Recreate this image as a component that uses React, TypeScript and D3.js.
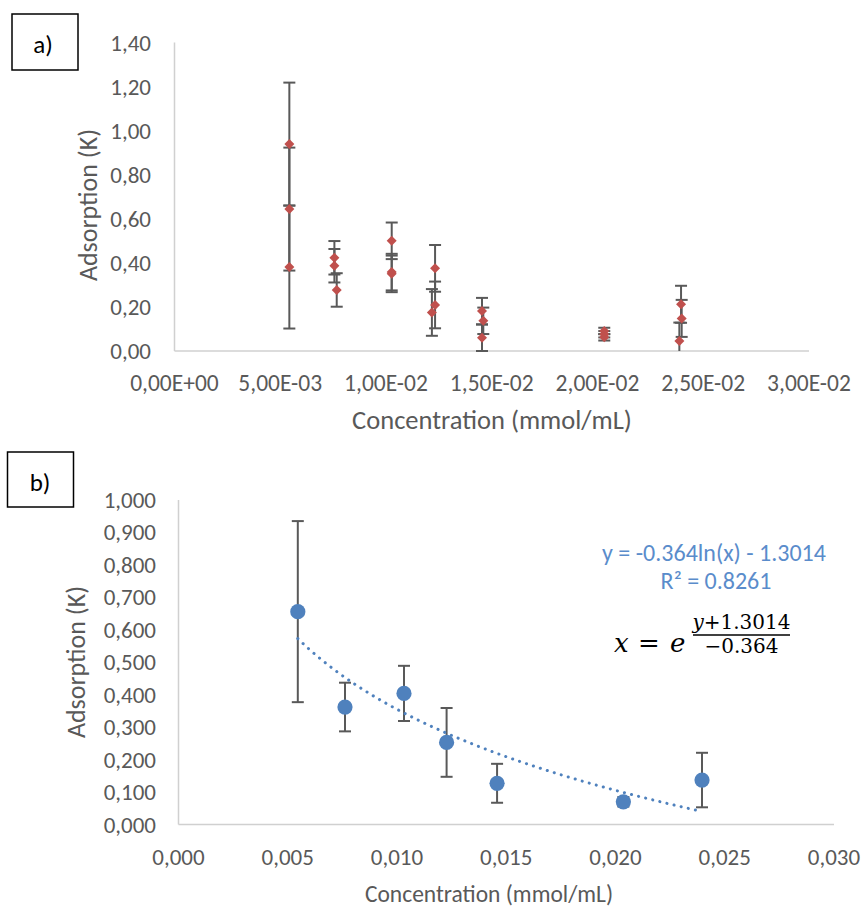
import React from 'react';
import * as d3 from 'd3';

// ---------- Panel a data (three replicates) ----------
const rep1Conc = [0.00543, 0.00756, 0.01027, 0.01232, 0.01454, 0.02032, 0.02395];
const rep1Abs = [0.939, 0.423, 0.5, 0.375, 0.181, 0.091, 0.212];
const rep2Conc = [0.00543, 0.00756, 0.01027, 0.01232, 0.0146, 0.02032, 0.02398];
const rep2Abs = [0.644, 0.387, 0.358, 0.209, 0.137, 0.076, 0.148];
const rep3Conc = [0.00543, 0.00767, 0.01027, 0.01217, 0.01454, 0.02032, 0.02387];
const rep3Abs = [0.381, 0.277, 0.35, 0.175, 0.06, 0.062, 0.045];
const sdA = [0.279, 0.076, 0.083, 0.106, 0.06, 0.0145, 0.084];

const xTicksA = [0, 0.005, 0.01, 0.015, 0.02, 0.025, 0.03];
const xTickLabelsA = ['0,00E+00', '5,00E-03', '1,00E-02', '1,50E-02', '2,00E-02', '2,50E-02', '3,00E-02'];
const yTicksA = [0, 0.2, 0.4, 0.6, 0.8, 1.0, 1.2, 1.4];
const yTickLabelsA = ['0,00', '0,20', '0,40', '0,60', '0,80', '1,00', '1,20', '1,40'];

// ---------- Panel b data (means) ----------
const meanConc = [0.00546, 0.00762, 0.01032, 0.01227, 0.01458, 0.02036, 0.02396];
const meanAbs = [0.656, 0.362, 0.404, 0.253, 0.127, 0.07, 0.137];
const sdB = [0.279, 0.075, 0.085, 0.106, 0.06, 0.0145, 0.084];

const xTicksB = [0, 0.005, 0.01, 0.015, 0.02, 0.025, 0.03];
const xTickLabelsB = ['0,000', '0,005', '0,010', '0,015', '0,020', '0,025', '0,030'];
const yTicksB = [0, 0.1, 0.2, 0.3, 0.4, 0.5, 0.6, 0.7, 0.8, 0.9, 1.0];
const yTickLabelsB = ['0,000', '0,100', '0,200', '0,300', '0,400', '0,500', '0,600', '0,700', '0,800', '0,900', '1,000'];

const eqLine1 = 'y  = -0.364ln(x) - 1.3014';
const eqLine2 = 'R² = 0.8261';

const FONT = "Carlito, Calibri, Lato, 'Noto Sans', sans-serif";
const MATH = "'DejaVu Serif', 'Liberation Serif', serif";
const GRAY = '#595959';
const AXIS = '#d0d0d0';
const RED = '#c0504d';
const BLUE = '#4f81bd';
const EQBLUE = '#5a8ccb';

function ErrorBar({ cx, v, sd, y, maxV }: any) {
  const lo = v - sd;
  const hi = v + sd;
  const loC = Math.max(0, lo);
  const hiC = Math.min(maxV, hi);
  const cw = 6;
  return (
    <g stroke={GRAY} strokeWidth={2}>
      <line x1={cx} x2={cx} y1={y(loC)} y2={y(hiC)} />
      {lo >= -1e-9 && <line x1={cx - cw} x2={cx + cw} y1={y(lo)} y2={y(lo)} />}
      {hi <= maxV && <line x1={cx - cw} x2={cx + cw} y1={y(hi)} y2={y(hi)} />}
    </g>
  );
}

export default function App() {
  // Panel a scales
  const xA = d3.scaleLinear().domain([0, 0.03]).range([174.5, 809]);
  const yA = d3.scaleLinear().domain([0, 1.4]).range([351, 42.5]);
  // Panel b scales
  const xB = d3.scaleLinear().domain([0, 0.03]).range([178.5, 834]);
  const yB = d3.scaleLinear().domain([0, 1]).range([824.5, 500]);

  const reps = [
    { c: rep1Conc, v: rep1Abs },
    { c: rep2Conc, v: rep2Abs },
    { c: rep3Conc, v: rep3Abs },
  ];
  const diamond = d3.symbol(d3.symbolSquare, 50)()!;

  // logarithmic least-squares trendline fitted to the means
  const lx = meanConc.map((c) => Math.log(c));
  const mx = d3.mean(lx)!;
  const my = d3.mean(meanAbs)!;
  let sxy = 0, sxx = 0;
  lx.forEach((l, i) => {
    sxy += (l - mx) * (meanAbs[i] - my);
    sxx += (l - mx) * (l - mx);
  });
  const slope = sxy / sxx;
  const intercept = my - slope * mx;
  const [cMin, cMax] = d3.extent(meanConc) as [number, number];
  const trendPts = d3.range(0, 81).map((i) => {
    const c = cMin + ((cMax - cMin) * i) / 80;
    return [c, slope * Math.log(c) + intercept] as [number, number];
  });
  const trendPath = d3.line<[number, number]>().x((d) => xB(d[0])).y((d) => yB(d[1]))(trendPts)!;

  return (
    <svg width={866} height={908} style={{ position: 'absolute', left: 0, top: 0, background: '#fff' }} fontFamily={FONT}>
      <rect width={866} height={908} fill="#fff" />

      {/* ================= Panel a ================= */}
      <rect x={12} y={14} width={66} height={56} fill="none" stroke="#000" strokeWidth={1.5} />
      <text x={43} y={44} textAnchor="middle" dominantBaseline="central" fontSize={25} fill="#000">a)</text>

      <line x1={xA(0)} x2={xA(0)} y1={yA(1.4)} y2={yA(0)} stroke={AXIS} strokeWidth={1.5} />
      <line x1={xA(0)} x2={xA(0.03)} y1={yA(0)} y2={yA(0)} stroke={AXIS} strokeWidth={1.5} />

      {yTicksA.map((t, i) => (
        <text key={'ya' + i} x={151} y={yA(t)} textAnchor="end" dominantBaseline="central" fontSize={23} fill={GRAY}>
          {yTickLabelsA[i]}
        </text>
      ))}
      {xTicksA.map((t, i) => (
        <text key={'xa' + i} x={xA(t)} y={383} textAnchor="middle" dominantBaseline="central" fontSize={23.5} fill={GRAY}>
          {xTickLabelsA[i]}
        </text>
      ))}
      <text x={492} y={420} textAnchor="middle" dominantBaseline="central" fontSize={26.5} fill={GRAY}>
        Concentration (mmol/mL)
      </text>
      <text transform={`translate(88,205) rotate(-90)`} textAnchor="middle" dominantBaseline="central" fontSize={26} fill={GRAY}>
        Adsorption (K)
      </text>

      {reps.map((r, ri) => (
        <g key={'rep' + ri}>
          {r.c.map((c, i) => (
            <ErrorBar key={i} cx={xA(c)} v={r.v[i]} sd={sdA[i]} y={yA} maxV={1.4} />
          ))}
        </g>
      ))}
      {reps.map((r, ri) => (
        <g key={'mk' + ri}>
          {r.c.map((c, i) => (
            <path key={i} d={diamond} transform={`translate(${xA(c)},${yA(r.v[i])}) rotate(45)`} fill={RED} />
          ))}
        </g>
      ))}

      {/* ================= Panel b ================= */}
      <rect x={7.5} y={452} width={66} height={55} fill="none" stroke="#000" strokeWidth={1.5} />
      <text x={40} y={482} textAnchor="middle" dominantBaseline="central" fontSize={25} fill="#000">b)</text>

      <line x1={xB(0)} x2={xB(0)} y1={yB(1)} y2={yB(0)} stroke={AXIS} strokeWidth={1.5} />
      <line x1={xB(0)} x2={xB(0.03)} y1={yB(0)} y2={yB(0)} stroke={AXIS} strokeWidth={1.5} />

      {yTicksB.map((t, i) => (
        <text key={'yb' + i} x={156} y={yB(t)} textAnchor="end" dominantBaseline="central" fontSize={23} fill={GRAY}>
          {yTickLabelsB[i]}
        </text>
      ))}
      {xTicksB.map((t, i) => (
        <text key={'xb' + i} x={xB(t)} y={857} textAnchor="middle" dominantBaseline="central" fontSize={23} fill={GRAY}>
          {xTickLabelsB[i]}
        </text>
      ))}
      <text x={489} y={894} textAnchor="middle" dominantBaseline="central" fontSize={23.5} fill={GRAY}>
        Concentration (mmol/mL)
      </text>
      <text transform={`translate(76,662) rotate(-90)`} textAnchor="middle" dominantBaseline="central" fontSize={26} fill={GRAY}>
        Adsorption (K)
      </text>

      {meanConc.map((c, i) => (
        <ErrorBar key={'eb' + i} cx={xB(c)} v={meanAbs[i]} sd={sdB[i]} y={yB} maxV={1} />
      ))}
      {meanConc.map((c, i) => (
        <circle key={'pt' + i} cx={xB(c)} cy={yB(meanAbs[i])} r={7.6} fill={BLUE} />
      ))}
      <path d={trendPath} fill="none" stroke={BLUE} strokeWidth={3} strokeLinecap="round" strokeDasharray="0.1 7.2" />

      <text x={714} y={552} textAnchor="middle" dominantBaseline="central" fontSize={24} fill={EQBLUE}>{eqLine1}</text>
      <text x={716} y={580} textAnchor="middle" dominantBaseline="central" fontSize={24} fill={EQBLUE}>{eqLine2}</text>

      {/* x = e^((y+1.3014)/(-0.364)) */}
      <g fontFamily={MATH} fill="#000">
        <text x={614} y={652} fontSize={26} fontStyle="italic">x</text>
        <text x={638} y={652} fontSize={26}>=</text>
        <text x={670} y={652} fontSize={26} fontStyle="italic">e</text>
        <text x={741.5} y={629} fontSize={20} textAnchor="middle">
          <tspan fontStyle="italic">y</tspan>+1.3014
        </text>
        <line x1={693} x2={790} y1={635} y2={635} stroke="#000" strokeWidth={1.5} />
        <text x={741.5} y={653} fontSize={20} textAnchor="middle">−0.364</text>
      </g>
    </svg>
  );
}
